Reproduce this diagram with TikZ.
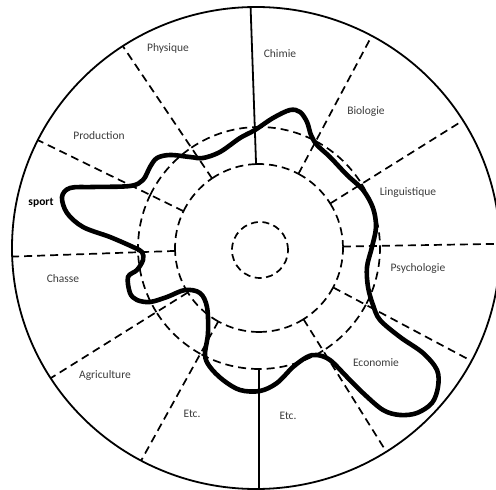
\documentclass[tikz,border=0pt]{standalone}
\usepackage{fontspec}
\setmainfont{Carlito}
\usepackage{xcolor}
\definecolor{LabelGray}{HTML}{3C3C3C}

\begin{document}
\begin{tikzpicture}[x=1pt, y=1pt,
    every node/.style={font=\fontsize{11.5}{13}\selectfont, text=LabelGray, inner sep=1pt},
    rim/.style={line width=1.8pt},
    spoke/.style={line width=1.7pt, dash pattern=on 8pt off 5pt},
    ring/.style={line width=1.7pt, dash pattern=on 8pt off 5pt},
    profile/.style={line width=4.6pt, line join=round}]
    \useasboundingbox (-259,-242) rectangle (237,248);
    \clip (-259,-242) rectangle (237,248);
    % outer rim
    \draw[rim] (-3,0) ellipse [x radius=244, y radius=241];
    % sector borders, cut at the rim
    \begin{scope}
      \clip (-3,0) ellipse [x radius=244, y radius=241];
      \draw[rim] (92:84) -- (92:260);
      \draw[spoke] (62:84) -- (62:260);
      \draw[spoke] (32:84) -- (32:260);
      \draw[spoke] (1:84) -- (1:260);
      \draw[spoke] (-28:84) -- (-28:260);
      \draw[spoke] (-58:84) -- (-58:260);
      \draw[rim] (-90:121) -- (-90:260);
      \draw[spoke] (-119:84) -- (-119:260);
      \draw[spoke] (-148:84) -- (-148:260);
      \draw[spoke] (-178:84) -- (-178:260);
      \draw[spoke] (154:84) -- (154:260);
      \draw[spoke] (124:84) -- (124:260);
    \end{scope}
    % dashed rings, one arc per sector
    \foreach \a/\b in {92/62, 62/32, 32/1, 1/-28, -28/-58, -58/-90, -90/-119, -119/-148, -148/-178, -178/-206, -206/-236, -236/-268} {
      \draw[ring] (\a:84) arc [start angle=\a, end angle=\b, radius=84];
      \draw[ring] (\a:121) arc [start angle=\a, end angle=\b, radius=121];
    }
    \draw[ring, dash pattern=on 7pt off 4.5pt] (1,-2) circle [radius=28];
    % the sport profile
    \draw[profile] plot[smooth cycle, tension=0.55] coordinates {
      (-4,118) (14,130) (31,138) (41,136) (48,126) (52,113) (58,103) (71,91)
      (88,73) (104,58) (114,40) (117,21) (113,1) (108,-19) (109,-39) (114,-57)
      (121,-72) (141,-89) (164,-105) (178,-122) (179,-139) (173,-155) (158,-165)
      (141,-167) (124,-162) (104,-145) (88,-129) (71,-112) (58,-107) (48,-109)
      (34,-119) (18,-135) (1,-143) (-19,-142) (-36,-132) (-49,-119) (-54,-107)
      (-51,-85) (-52,-59) (-59,-45) (-74,-42) (-92,-49) (-109,-54) (-122,-52)
      (-129,-45) (-131,-29) (-122,-22) (-116,-12) (-117,-4) (-126,1) (-149,11)
      (-176,21) (-192,35) (-197,51) (-189,60) (-166,61) (-129,62) (-116,68)
      (-109,81) (-102,90) (-89,93) (-69,91) (-56,90) (-39,96) (-19,110)};
    % sector labels
    \node (chimie) at (21,194) {Chimie};
    \node (biologie) at (107,137) {Biologie};
    \node (linguistique) at (149,55) {Linguistique};
    \node (psychologie) at (159,-20) {Psychologie};
    \node (economie) at (117,-115) {Economie};
    \node (etcright) at (29,-168) {Etc.};
    \node (etcleft) at (-67,-166) {Etc.};
    \node (agriculture) at (-154,-127) {Agriculture};
    \node (chasse) at (-196,-31) {Chasse};
    \node[font=\fontsize{11.5}{13}\selectfont\bfseries, text=black] (sport) at (-218,45) {sport};
    \node (production) at (-160,112) {Production};
    \node (physique) at (-91,200) {Physique};
\end{tikzpicture}
\end{document}
